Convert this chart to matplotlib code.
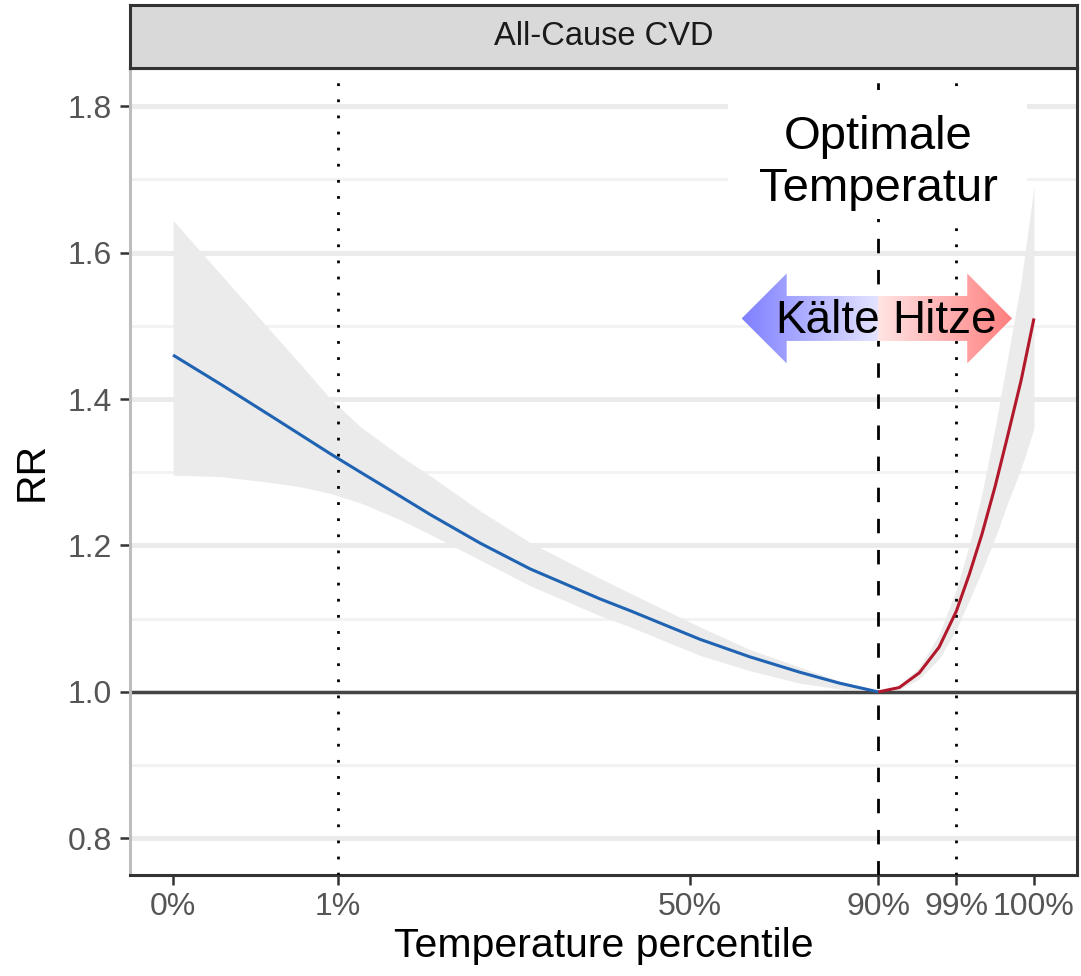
import matplotlib
matplotlib.use('Agg')
import matplotlib.pyplot as plt
import matplotlib.ticker as mtick
import matplotlib.patches as mpatches
import numpy as np

plt.rcParams['font.family'] = ['Liberation Sans', 'DejaVu Sans']

# x axis: temperature scale, labelled by percentile
pct_labels = ['0%', '1%', '50%', '90%', '99%', '100%']
pct_temp = [-12.0, -4.35, 12.0, 20.77, 24.39, 28.0]

# cold side (below optimum)
cold_t = [-12.0, -9.78, -7.46, -6.07, -4.68, -3.29, -1.43, -0.04, 2.28, 4.59, 7.84, 9.23, 12.47, 14.79, 17.11, 18.96, 20.77]
cold_rr = [1.460, 1.420, 1.377, 1.351, 1.325, 1.300, 1.267, 1.242, 1.203, 1.168, 1.127, 1.111, 1.072, 1.048, 1.027, 1.012, 1.000]
cold_lo = [1.296, 1.294, 1.286, 1.280, 1.271, 1.258, 1.235, 1.215, 1.180, 1.145, 1.104, 1.089, 1.050, 1.029, 1.012, 1.004, 1.000]
cold_hi = [1.644, 1.570, 1.493, 1.447, 1.400, 1.362, 1.322, 1.295, 1.247, 1.204, 1.155, 1.135, 1.089, 1.058, 1.034, 1.015, 1.000]

# heat side (above optimum)
heat_t = [20.77, 21.74, 22.67, 23.59, 24.39, 24.99, 25.58, 26.19, 26.74, 27.40, 28.0]
heat_rr = [1.000, 1.006, 1.026, 1.061, 1.110, 1.160, 1.215, 1.280, 1.345, 1.425, 1.510]
heat_lo = [1.000, 1.003, 1.018, 1.045, 1.085, 1.125, 1.165, 1.210, 1.255, 1.305, 1.360]
heat_hi = [1.000, 1.008, 1.034, 1.078, 1.140, 1.200, 1.270, 1.360, 1.450, 1.560, 1.690]

W, H = 1081, 976
fig = plt.figure(figsize=(W / 100, H / 100), dpi=100)

def fbox(x0, y0, x1, y1):
    # pixel box -> figure fraction rect
    return [x0 / W, 1 - y1 / H, (x1 - x0) / W, (y1 - y0) / H]

ax = fig.add_axes(fbox(130, 68, 1077, 875))
strip = fig.add_axes(fbox(130, 5, 1077, 68))

# strip on top
strip.set_facecolor('#D9D9D9')
strip.set_xticks([])
strip.set_yticks([])
for s in strip.spines.values():
    s.set_color('#333333')
    s.set_linewidth(2.2)
strip.text(0.5, 0.5, 'All-Cause CVD', ha='center', va='center', fontsize=23.5, color='#1A1A1A',
           transform=strip.transAxes)

# grid (horizontal only)
ax.yaxis.set_major_locator(mtick.MultipleLocator(0.2))
ax.yaxis.set_minor_locator(mtick.MultipleLocator(0.1))
ax.yaxis.set_major_formatter(mtick.FormatStrFormatter('%.1f'))
ax.grid(axis='y', which='major', color='#EBEBEB', lw=3.6, zorder=0)
ax.grid(axis='y', which='minor', color='#F2F2F2', lw=2.0, zorder=0)
ax.set_axisbelow(True)

ax.set_xticks(pct_temp)
ax.set_xticklabels(pct_labels)
ax.tick_params(axis='both', which='major', length=7, width=1.8, color='#333333',
               labelsize=23, labelcolor='#555555')
ax.tick_params(axis='x', pad=5)
ax.tick_params(axis='y', pad=6)
ax.tick_params(axis='y', which='minor', length=0)

for side in ['bottom', 'right', 'top']:
    ax.spines[side].set_color('#333333')
    ax.spines[side].set_linewidth(2.2)
ax.spines['left'].set_color('#BDBDBD')
ax.spines['left'].set_linewidth(2.2)

# confidence bands
ax.fill_between(cold_t, cold_lo, cold_hi, color='#EBEBEB', lw=0, zorder=1)
ax.fill_between(heat_t, heat_lo, heat_hi, color='#EBEBEB', lw=0, zorder=1)

ax.axhline(1.0, color='#444444', lw=2.4, zorder=2)

# percentile reference lines
ax.axvline(pct_temp[1], color='black', lw=2.0, ls=(0, (1, 4.8)), zorder=3)
ax.axvline(pct_temp[4], color='black', lw=2.0, ls=(0, (1, 4.8)), zorder=3)
ax.axvline(pct_temp[3], color='black', lw=2.0, ls=(0, (5.2, 6.0)), zorder=3)

ax.plot(cold_t, cold_rr, color='#1F63B2', lw=2.2, zorder=4, solid_capstyle='butt')
ax.plot(heat_t, heat_rr, color='#B2182B', lw=2.2, zorder=4, solid_capstyle='butt')

# white box behind the annotation text
ax.add_patch(mpatches.Rectangle((13.77, 1.646), 27.67 - 13.77, 1.822 - 1.646,
                                facecolor='white', edgecolor='none', zorder=5))
ax.text(pct_temp[3], 1.742, 'Optimale', ha='center', va='baseline', fontsize=34, color='black', zorder=7)
ax.text(pct_temp[3], 1.671, 'Temperatur', ha='center', va='baseline', fontsize=34, color='black', zorder=7)

# double arrow Kälte / Hitze with gradient fill
ay = 1.510
hh, sh = 0.0614, 0.0307
xl, xlb, xm, xrb, xr = 14.42, 16.51, pct_temp[3], 24.90, 26.98
arrow_pts = [(xl, ay), (xlb, ay + hh), (xlb, ay + sh), (xrb, ay + sh), (xrb, ay + hh), (xr, ay),
             (xrb, ay - hh), (xrb, ay - sh), (xlb, ay - sh), (xlb, ay - hh)]
arrow = mpatches.Polygon(arrow_pts, closed=True, facecolor='none', edgecolor='none', zorder=6)
ax.add_patch(arrow)

n = 200
left = np.zeros((1, n, 3))
left[0, :, 0] = np.linspace(127, 228, n) / 255
left[0, :, 1] = np.linspace(127, 228, n) / 255
left[0, :, 2] = 1.0
right = np.zeros((1, n, 3))
right[0, :, 0] = 1.0
right[0, :, 1] = np.linspace(228, 127, n) / 255
right[0, :, 2] = np.linspace(228, 127, n) / 255
for img, ext in [(left, [xl, xm, ay - hh, ay + hh]), (right, [xm, xr, ay - hh, ay + hh])]:
    im = ax.imshow(img, extent=ext, aspect='auto', interpolation='bilinear', zorder=6)
    im.set_clip_path(arrow)

ax.text(18.40, 1.49, 'Kälte', ha='center', va='baseline', fontsize=33, color='black', zorder=7)
ax.text(23.83, 1.49, 'Hitze', ha='center', va='baseline', fontsize=33, color='black', zorder=7)

ax.set_xlim(-14, 30)
ax.set_ylim(0.75, 1.852)

ax.set_xlabel('Temperature percentile', fontsize=29.5, color='black', labelpad=4)
ax.set_ylabel('RR', fontsize=29.5, color='black', labelpad=12)

fig.savefig('out.png', dpi=100)
